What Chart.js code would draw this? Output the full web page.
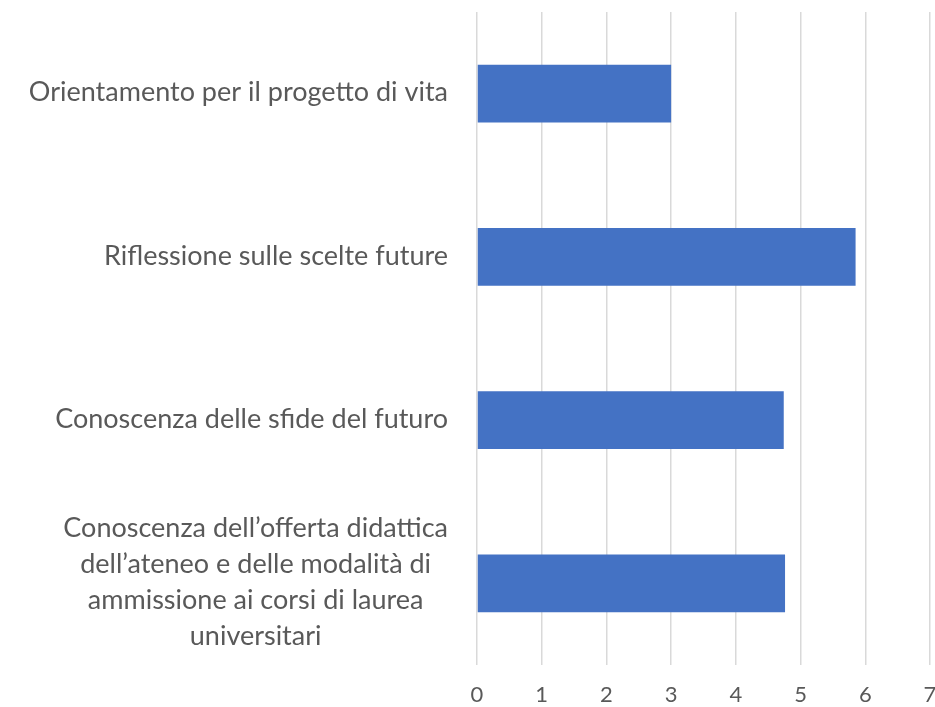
<!DOCTYPE html>
<html>
<head>
<meta charset="utf-8">
<script src="https://cdn.jsdelivr.net/npm/chart.js@4.4.0/dist/chart.umd.min.js"></script>
<style>
  html, body { margin: 0; padding: 0; background: #fff; }
  #wrap { width: 935px; height: 707px; }
</style>
</head>
<body>
<div id="wrap"><canvas id="mycanvas" width="935" height="707"></canvas></div>
<script>
// data
var categories = [
    ["Orientamento per il progetto di vita"],
    ["Riflessione sulle scelte future"],
    ["Conoscenza delle sfide del futuro"],
    ["Conoscenza dell\u2019offerta didattica", "dell\u2019ateneo e delle modalit\u00e0 di", "ammissione ai corsi di laurea", "universitari"]
];
var values = [3.0, 5.85, 4.74, 4.76];
var xTicks = [0, 1, 2, 3, 4, 5, 6, 7];

var labelColor = "#595959";
var labelFont = "27px Lato";

// draw the category labels: block right-aligned, lines centred inside the block
var catLabels = {
    id: "catLabels",
    afterDraw: function(chart){
        var ctx = chart.ctx;
        var y = chart.scales.y;
        var right = y.right - 29;
        ctx.save();
        ctx.font = labelFont;
        ctx.fillStyle = labelColor;
        ctx.textAlign = "center";
        ctx.textBaseline = "middle";
        for (var i = 0; i < categories.length; i++) {
            var lines = categories[i];
            var w = 0;
            for (var j = 0; j < lines.length; j++) {
                w = Math.max(w, ctx.measureText(lines[j]).width);
            }
            var cx = right - w / 2;
            var cy = y.getPixelForTick(i) - 1;
            var lh = 36;
            for (var k = 0; k < lines.length; k++) {
                ctx.fillText(lines[k], cx, cy + (k - (lines.length - 1) / 2) * lh);
            }
        }
        ctx.restore();
    }
};

var ctx = document.getElementById("mycanvas");

var GenericGraph = new Chart(ctx, {
    type: 'bar',
    data: {
        labels: categories.map(function(c){ return c.join(" "); }),
        datasets: [{
            data: values,
            backgroundColor: "#4472C4",
            borderWidth: 0,
            categoryPercentage: 1,
            barPercentage: 0.355
        }]
    },
    options: {
        indexAxis: 'y',
        responsive: false,
        animation: false,
        layout: { padding: { top: 12, right: 0, bottom: 0, left: 0 } },
        plugins: { legend: { display: false }, tooltip: { enabled: false } },
        scales: {
            x: {
                min: 0,
                max: 7,
                afterBuildTicks: function(scale){
                    scale.ticks = xTicks.map(function(v){ return { value: v }; });
                },
                afterFit: function(scale){
                    scale.paddingRight = 5;
                    scale.height = 42;
                },
                grid: { color: "#d9d9d9", lineWidth: 1.5, drawTicks: false },
                border: { display: false },
                ticks: { color: labelColor, font: { family: "Lato", size: 22, lineHeight: 1 }, padding: 19 }
            },
            y: {
                grid: { display: false },
                border: { display: false },
                ticks: { display: false },
                afterFit: function(scale){ scale.width = 477; }
            }
        }
    },
    plugins: [catLabels]
});
</script>
</body>
</html>
